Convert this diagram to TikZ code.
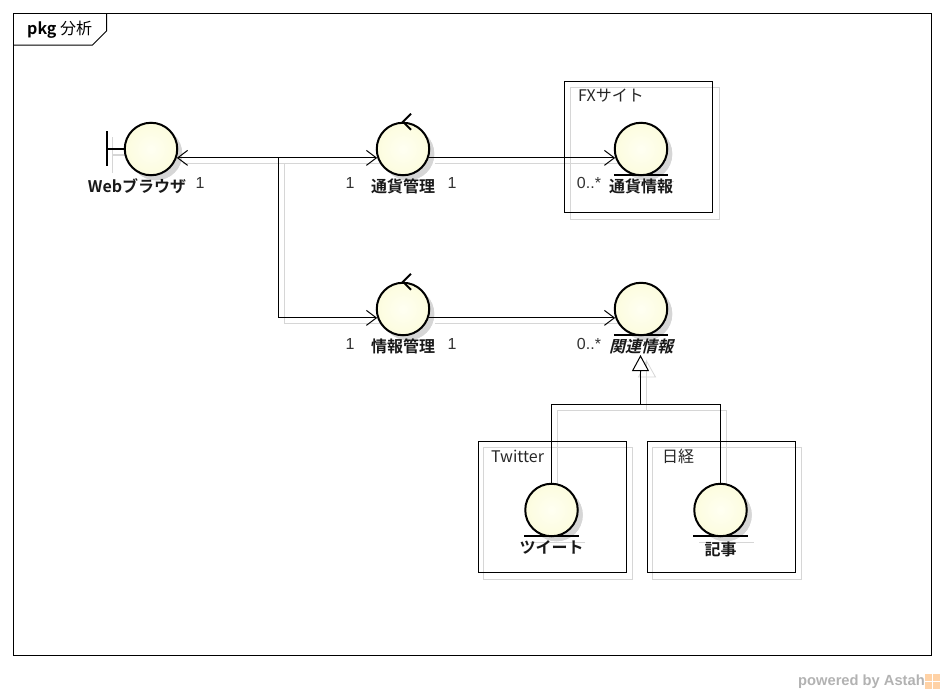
\documentclass[tikz,border=0pt]{standalone}
\usepackage{fontspec}
\setmainfont{Liberation Sans}
\newfontfamily\cjk{Noto Sans CJK JP}
\newfontfamily\cjkit[FakeSlant=0.25]{Noto Sans CJK JP Bold}
\newfontfamily\cjkbf{Noto Sans CJK JP Bold}
\usetikzlibrary{positioning, shadows, backgrounds, arrows.meta}
\definecolor{ballin}{RGB}{255,255,242}
\definecolor{ballout}{RGB}{252,252,222}
\tikzstyle{ball} = [draw, circle, line width=2pt, minimum size=52.5pt, inner sep=0pt, inner color=ballin, outer color=ballout, copy shadow={shadow xshift=5pt, shadow yshift=-5pt, draw=none, fill=black!16, inner color=black!16, outer color=black!16}]
\tikzstyle{pkgbox} = [draw, rectangle, line width=1pt, minimum width=148pt, minimum height=131pt, inner sep=0pt]
\tikzstyle{ballname} = [font=\cjkbf\fontsize{16}{18}\selectfont, inner sep=0pt, text=black!90]
\tikzstyle{mult} = [font=\fontsize{16}{18}\selectfont, inner sep=0pt, text=black!80]
\tikzstyle{boxname} = [font=\cjk\fontsize{16}{18}\selectfont, anchor=west, inner sep=0pt, text=black!85]
\tikzstyle{arrow} = [line width=1pt, ->, >={Straight Barb[length=10pt,width=15pt]}]
\tikzstyle{gen} = [line width=1pt, ->, >={Triangle[open,fill=white,length=16pt,width=17pt]}]
\tikzstyle{ghost} = [line width=0.8pt, black!16]
\tikzstyle{glyph} = [line width=2pt]
\begin{document}
\begin{tikzpicture}[x=1pt, y=-1pt]
    \useasboundingbox (0,0) rectangle (945,694);
    \node [draw, line width=1pt, rectangle, minimum width=918pt, minimum height=642pt, inner sep=0pt] (frame) at (472.5,334.5) {};
    \draw [line width=1pt] (frame.north west) ++(0,32) coordinate (tabl) -- ++(79.5,0) -- ++(14,-14) -- ++(0,-18) coordinate (tabr);
    \node [font=\cjk\fontsize{16}{18}\selectfont, inner sep=0pt, anchor=west] (title) at (27,30) {{\cjkbf pkg} 分析};

    \node [pkgbox] (fxbox) at (638.5,147) {};
    \node [pkgbox] (twbox) at (552,507) {};
    \node [pkgbox] (nkbox) at (721,507) {};
    \node [boxname] (fxname) at (578,96) {FXサイト};
    \node [boxname] (twname) at (491,456) {Twitter};
    \node [boxname] (nkname) at (662,456) {日経};

    \node [ball] (web) at (151,149) {};
    \node [ball, right=197.5pt of web] (curmgr) {};
    \node [ball, right=183.5pt of curmgr] (curinfo) {};
    \node [ball, below=105.5pt of curmgr] (infomgr) {};
    \node [ball, right=183.5pt of infomgr] (relinfo) {};
    \node [ball, below=146.5pt of relinfo, xshift=-89.5pt] (tweet) {};
    \node [ball, below=146.5pt of relinfo, xshift=79.5pt] (article) {};

    \node [ballname, below=2pt of web, xshift=-14pt] (webname) {Webブラウザ};
    \node [ballname, below=2pt of curmgr] (curmgrname) {通貨管理};
    \node [ballname, below=2pt of curinfo] (curinfoname) {通貨情報};
    \node [ballname, below=2.5pt of infomgr] (infomgrname) {情報管理};
    \node [ballname, below=2.5pt of relinfo, font=\cjkit\fontsize{16}{18}\selectfont] (relname) {関連情報};
    \node [ballname, below=3.5pt of tweet] (tweetname) {ツイート};
    \node [ballname, below=4pt of article] (articlename) {記事};

    \node [mult] (m1) at (200,183) {1};
    \node [mult] (m2) at (350,183) {1};
    \node [mult] (m3) at (452,183) {1};
    \node [mult] (m4) at (589,183) {0..*};
    \node [mult] (m5) at (350,344) {1};
    \node [mult] (m6) at (452,344) {1};
    \node [mult] (m7) at (589,344) {0..*};

    \draw [glyph] (web.west) -- ++(-17,0) coordinate (bar);
    \draw [glyph] (bar) ++(0,-18) -- ++(0,35);
    \foreach \n in {curmgr, infomgr}
        \draw [glyph] (\n.north) ++(8,-8) -- ++(-8,8) -- ++(8,8);
    \foreach \n in {curinfo, relinfo, tweet, article}
        \draw [glyph] ([yshift=1pt]\n.south -| \n.west) -- ([yshift=1pt]\n.south -| \n.east);

    \coordinate (webjoin) at (278.5,0 |- web.-19.5);
    \coordinate (genjoint) at (640.5,404.5);
    \coordinate (gentip) at (640.5,355);
    \draw [arrow] (webjoin) -- (web.-19.5);
    \draw [arrow] (webjoin) -- (curmgr.199.5);
    \draw [arrow] (webjoin) |- (infomgr.199.5);
    \draw [arrow] (curmgr.-19.5) -- (curinfo.199.5);
    \draw [arrow] (infomgr.-19.5) -- (relinfo.199.5);
    \draw [line width=1pt] (tweet.north) |- (genjoint);
    \draw [line width=1pt] (article.north) |- (genjoint);
    \draw [gen] (genjoint) -- (gentip);

    \begin{scope}[on background layer]
        \foreach \b in {fxbox, twbox, nkbox}
            \draw [ghost] ([shift={(6pt,-6pt)}]\b.north west) rectangle ([shift={(6pt,-6pt)}]\b.south east);
        \draw [ghost] ([shift={(6pt,-6pt)}]web.-19.5) -- ([shift={(6pt,-6pt)}]curmgr.199.5);
        \draw [ghost] ([shift={(6pt,-6pt)}]webjoin) |- ([shift={(6pt,-6pt)}]infomgr.199.5);
        \draw [ghost] ([shift={(6pt,-6pt)}]curmgr.-19.5) -- ([shift={(6pt,-6pt)}]curinfo.199.5);
        \draw [ghost] ([shift={(6pt,-6pt)}]infomgr.-19.5) -- ([shift={(6pt,-6pt)}]relinfo.199.5);
        \draw [ghost] ([shift={(6pt,-6pt)}]tweet.north) |- ([shift={(6pt,-6pt)}]genjoint);
        \draw [ghost] ([shift={(6pt,-6pt)}]article.north) |- ([shift={(6pt,-6pt)}]genjoint);
        \draw [ghost] ([shift={(6pt,-6pt)}]genjoint) -- ([shift={(6pt,-6pt)}]gentip) -- ++(-8,16) -- ++(17,0) -- ++(-9,-16);
        \draw [ghost, line width=1.2pt] (bar) ++(6,-12) -- ++(0,36);
        \draw [ghost, line width=1.2pt] (bar) ++(6,6) -- ++(15,0);
        \foreach \n in {curinfo, relinfo, tweet, article}
            \draw [ghost, line width=1.4pt] ([shift={(6pt,-5pt)}]\n.south -| \n.west) -- ([shift={(6pt,-5pt)}]\n.south -| \n.east);
    \end{scope}

    \node [font=\bfseries\fontsize{14.7}{16}\selectfont, text=black!30, inner sep=0pt, anchor=east] (powered) at (925,682) {powered by Astah};
    \node [fill=orange!35, minimum size=15pt, inner sep=0pt, anchor=west] (logo) at (925,681) {};
    \draw [white, line width=1pt] (logo.west) -- (logo.center) -- (logo.north);
    \draw [white, line width=1pt] (logo.south) -- (logo.center) -- (logo.east);
\end{tikzpicture}
\end{document}
